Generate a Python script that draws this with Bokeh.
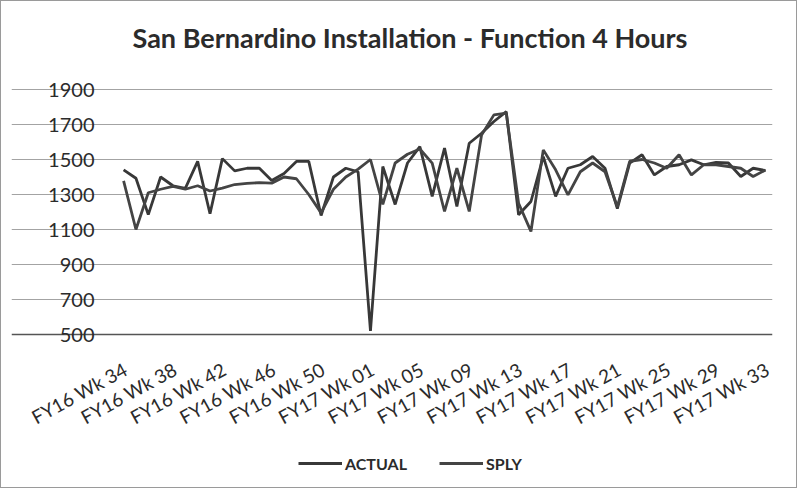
from bokeh.plotting import figure
from bokeh.models import FixedTicker, Legend, LegendItem, ColumnDataSource, Grid
from bokeh.core.properties import value
from bokeh.embed import file_html
from bokeh.resources import INLINE

# categories
fy16 = ["FY16 Wk %02d" % w for w in range(34, 54)]
fy17 = ["FY17 Wk %02d" % w for w in range(1, 34)]
weeks = fy16 + fy17

actual = [1441, 1393, 1185, 1400, 1350, 1335, 1489, 1190, 1505, 1435,
          1450, 1450, 1380, 1420, 1489, 1489, 1180, 1400, 1450, 1430,
          520, 1460, 1243, 1480, 1574, 1289, 1565, 1231, 1593, 1650,
          1717, 1774, 1184, 1260, 1516, 1289, 1450, 1470, 1517, 1450,
          1219, 1479, 1527, 1412, 1460, 1470, 1498, 1470, 1484, 1480,
          1403, 1450, 1437]
sply = [1378, 1100, 1310, 1330, 1346, 1330, 1350, 1320, 1336, 1357,
        1363, 1368, 1365, 1400, 1390, 1300, 1195, 1330, 1400, 1445,
        1500, 1243, 1480, 1530, 1560, 1479, 1203, 1450, 1203, 1640,
        1755, 1765, 1250, 1089, 1555, 1441, 1298, 1430, 1480, 1430,
        1230, 1490, 1500, 1480, 1450, 1527, 1412, 1470, 1470, 1460,
        1450, 1403, 1440]

y_ticks = [500, 700, 900, 1100, 1300, 1500, 1700, 1900]
y_labels = [str(v) for v in y_ticks]
y_min, y_max = 500, 1900
label_every = 4

idx = list(range(len(weeks)))
src = ColumnDataSource(dict(x=idx, actual=actual, sply=sply, week=weeks))
tick_idx = idx[::label_every]
tick_src = ColumnDataSource(dict(x=tick_idx, y=[y_min] * len(tick_idx),
                                 lab=[weeks[i] for i in tick_idx]))

# plot-area geometry (pixels) -> data ranges; the frame is widened to host
# the category labels, value labels and legend as glyphs/annotations
px_per_unit = 245 / (y_max - y_min)
px_per_cat = 12.333
area_left = -0.25            # left edge of the plotting area, in categories
area_right = 52.57
frame_left_px = 10
first_px = 122
x_start = -(first_px - frame_left_px) / px_per_cat
extra_bottom_px = 147
frame_top_px = 60
extra_top_px = 88 - frame_top_px

ylab_src = ColumnDataSource(dict(x=[area_left] * len(y_ticks), y=y_ticks, lab=y_labels))

p = figure(width=797, height=488, output_backend="svg", toolbar_location=None,
           x_range=(x_start, area_right),
           y_range=(y_min - extra_bottom_px / px_per_unit,
                    y_max + extra_top_px / px_per_unit),
           min_border_left=frame_left_px, min_border_right=26,
           min_border_top=frame_top_px, min_border_bottom=8)
p.styles = {"border": "1px solid #9a9a9a"}

p.title.text = "San Bernardino Installation - Function 4 Hours"
p.title.align = "left"
p.title.offset = 121
p.title.text_font = "Lato"
p.title.text_font_size = "27px"
p.title.text_font_style = "bold"
p.title.text_color = "#2b2b2b"
p.title.standoff = 15

p.outline_line_color = None
p.background_fill_color = "white"

p.xaxis.visible = False
p.yaxis.visible = False
p.xgrid.grid_line_color = None
p.ygrid.grid_line_color = None

p.add_layout(Grid(dimension=1, ticker=FixedTicker(ticks=y_ticks[1:]),
                  bounds=(area_left, area_right), grid_line_color="#a3a3a3",
                  grid_line_width=1.2))
p.add_layout(Grid(dimension=1, ticker=FixedTicker(ticks=[y_min]),
                  bounds=(area_left, area_right), grid_line_color="#555555",
                  grid_line_width=1.6))

l1 = p.line("x", "actual", source=src, line_color="#383838", line_width=2.8)
l2 = p.line("x", "sply", source=src, line_color="#444444", line_width=2.8)

# category labels (every 4th week), rotated like the original
p.text("x", "y", text="lab", source=tick_src, angle=0.5,
       text_align="right", text_baseline="middle", x_offset=2, y_offset=33,
       text_font=value("Lato"), text_font_size="19px", text_color="#2b2b2b")

# value labels
p.text("x", "y", text="lab", source=ylab_src,
       text_align="right", text_baseline="middle", x_offset=-26, y_offset=0,
       text_font=value("Lato"), text_font_size="20px", text_color="#2b2b2b")

legend = Legend(items=[LegendItem(label="ACTUAL", renderers=[l1]),
                       LegendItem(label="SPLY", renderers=[l2])],
                location=(287, 8), orientation="horizontal",
                label_text_font="Lato", label_text_font_size="16px",
                label_text_font_style="bold",
                label_text_color="#2b2b2b", glyph_width=44, label_standoff=3,
                spacing=32, padding=0, margin=0,
                border_line_color=None, background_fill_alpha=0)
p.add_layout(legend, "center")

open("out.html", "w").write(file_html(p, INLINE))
